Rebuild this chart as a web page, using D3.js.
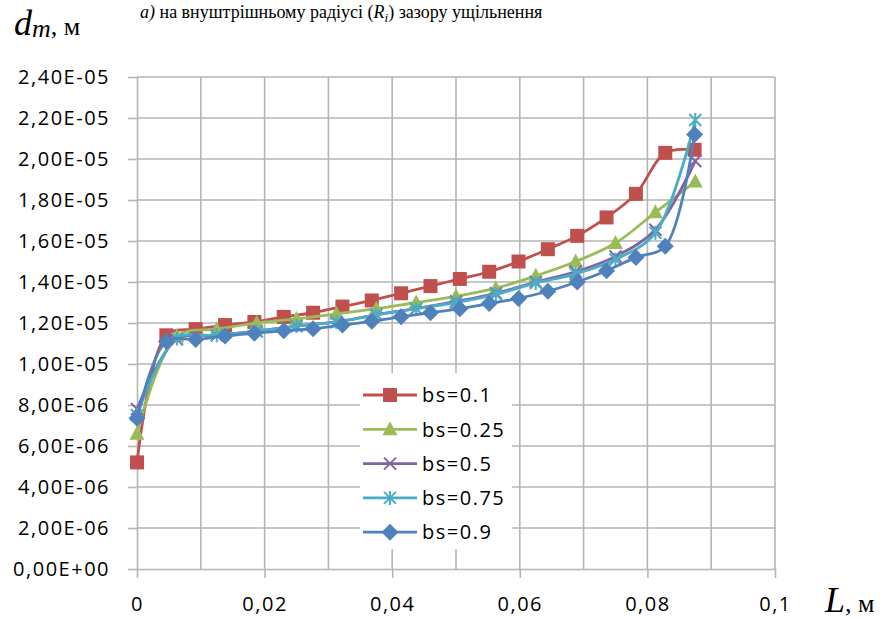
<!DOCTYPE html>
<html>
<head>
<meta charset="utf-8">
<script src="https://cdn.jsdelivr.net/npm/d3@7"></script>
<style>
  body { margin: 0; background: #fff; }
  .tick text { font-family: "Open Sans", sans-serif; font-size: 20px; letter-spacing: 1.5px; fill: #000; }
  .serif { font-family: "Liberation Serif", "Times New Roman", serif; fill: #000; }
</style>
</head>
<body>
<div id="graph"></div>
<script>
// x positions (L, m)
var xFine = [0, 0.0046, 0.0092, 0.0138, 0.0184, 0.023, 0.0276, 0.0322, 0.0368, 0.0414,
             0.046, 0.0506, 0.0552, 0.0598, 0.0644, 0.069, 0.0736, 0.0782, 0.0828, 0.0874];
var xCoarse = [0, 0.00625, 0.0125, 0.01875, 0.025, 0.03125, 0.0375, 0.04375, 0.05,
               0.05625, 0.0625, 0.06875, 0.075, 0.08125, 0.0875];

// d_m values, x 1e-6 m
var bs01 = [5.2, 11.4, 11.7, 11.9, 12.05, 12.3, 12.5, 12.8, 13.1, 13.45,
            13.8, 14.15, 14.5, 15.0, 15.6, 16.25, 17.15, 18.3, 20.3, 20.45];
var bs025 = [6.6, 11.35, 11.7, 12.0, 12.2, 12.45, 12.7, 13.0, 13.3, 13.7,
             14.3, 15.0, 15.9, 17.4, 18.9];
var bs05 = [7.8, 11.2, 11.4, 11.6, 11.85, 12.05, 12.4, 12.7, 13.05, 13.45,
            14.0, 14.5, 15.25, 16.55, 19.9];
var bs075 = [7.5, 11.25, 11.4, 11.6, 11.85, 12.05, 12.4, 12.7, 13.0, 13.4,
             13.95, 14.4, 15.1, 16.4, 21.9];
var bs09 = [7.35, 11.1, 11.2, 11.37, 11.5, 11.62, 11.72, 11.9, 12.08, 12.3,
            12.5, 12.7, 12.95, 13.2, 13.55, 14.0, 14.55, 15.2, 15.75, 21.2];

var seriesNames = ["bs=0.1", "bs=0.25", "bs=0.5", "bs=0.75", "bs=0.9"];
var xTicks = [0, 0.02, 0.04, 0.06, 0.08, 0.1];
var xGrid = [0.01, 0.02, 0.03, 0.04, 0.05, 0.06, 0.07, 0.08, 0.09, 0.1];
var yTicks = [0, 2e-6, 4e-6, 6e-6, 8e-6, 1e-5, 1.2e-5, 1.4e-5, 1.6e-5, 1.8e-5, 2e-5, 2.2e-5, 2.4e-5];

var series = [
  {name: seriesNames[0], xs: xFine,   ys: bs01,  color: "#C0504D", marker: "square"},
  {name: seriesNames[1], xs: xCoarse, ys: bs025, color: "#9BBB59", marker: "triangle"},
  {name: seriesNames[2], xs: xCoarse, ys: bs05,  color: "#8064A2", marker: "x"},
  {name: seriesNames[3], xs: xCoarse, ys: bs075, color: "#4BACC6", marker: "star"},
  {name: seriesNames[4], xs: xFine,   ys: bs09,  color: "#4F81BD", marker: "diamond"}
];

drawGraph(892, 619);

function drawGraph(w, h) {
  var margin = {top: 77, right: 117, bottom: 50, left: 137},
      width = w - margin.left - margin.right,
      height = h - margin.top - margin.bottom;

  var x = d3.scaleLinear().domain([0, 0.1]).range([0, width]);
  var y = d3.scaleLinear().domain([0, 2.4e-5]).range([height, 0]);

  var svg = d3.select("#graph").append("svg")
      .attr("width", w)
      .attr("height", h);

  var g = svg.append("g")
      .attr("transform", "translate(" + margin.left + "," + margin.top + ")");

  var gridColor = "#b5b5b5";

  // grid
  g.selectAll(".vgrid").data(xGrid).enter().append("line")
      .attr("x1", function(d) { return x(d); }).attr("x2", function(d) { return x(d); })
      .attr("y1", 0).attr("y2", height)
      .attr("stroke", gridColor).attr("stroke-width", 1.6);
  g.selectAll(".hgrid").data(yTicks.slice(1)).enter().append("line")
      .attr("x1", 0).attr("x2", width)
      .attr("y1", function(d) { return y(d); }).attr("y2", function(d) { return y(d); })
      .attr("stroke", gridColor).attr("stroke-width", 1.6);

  // axes
  function sci(d) {
    var p = d.toExponential(2).split("e");
    var e = parseInt(p[1]);
    var s = e < 0 ? "-" : "+";
    e = Math.abs(e);
    return p[0].replace(".", ",") + "E" + s + (e < 10 ? "0" : "") + e;
  }
  var yAxis = g.append("g")
      .call(d3.axisLeft(y).tickValues(yTicks).tickSize(9).tickSizeOuter(0).tickPadding(18).tickFormat(sci));
  var xAxis = g.append("g")
      .attr("transform", "translate(0," + height + ")")
      .call(d3.axisBottom(x).tickValues(xTicks).tickSize(9).tickSizeOuter(0).tickPadding(14)
        .tickFormat(function(d) { return String(d).replace(".", ","); }));
  [yAxis, xAxis].forEach(function(a) {
    a.select(".domain").attr("stroke", gridColor).attr("stroke-width", 1.6);
    a.selectAll(".tick line").attr("stroke", gridColor).attr("stroke-width", 1.6);
    a.selectAll(".tick text").attr("font-family", null).attr("font-size", null);
  });
  xAxis.selectAll(".tick text").attr("dy", "0.95em");

  // smoothed lines, like Excel
  var line = d3.line()
      .x(function(d) { return x(d[0]); })
      .y(function(d) { return y(d[1] * 1e-6); })
      .curve(d3.curveCatmullRom.alpha(0.5));

  series.forEach(function(s) {
    var pts = s.xs.map(function(v, i) { return [v, s.ys[i]]; });
    g.append("path")
        .datum(pts)
        .attr("fill", "none")
        .attr("stroke", s.color)
        .attr("stroke-width", 2.8)
        .attr("d", line);
    g.selectAll(null).data(pts).enter().append("g")
        .attr("transform", function(d) { return "translate(" + x(d[0]) + "," + y(d[1] * 1e-6) + ")"; })
        .each(function() { drawMarker(d3.select(this), s.marker, s.color); });
  });

  // legend
  var lg = svg.append("g").attr("transform", "translate(360,373)");
  lg.append("rect").attr("width", 152).attr("height", 176).attr("fill", "#fff");
  series.forEach(function(s, i) {
    var row = lg.append("g").attr("transform", "translate(0," + (22 + i * 34.3) + ")");
    row.append("line").attr("x1", 3).attr("x2", 57).attr("stroke", s.color).attr("stroke-width", 2.8);
    drawMarker(row.append("g").attr("transform", "translate(30,0)"), s.marker, s.color);
    row.append("text").attr("x", 62).attr("dy", "0.36em")
        .attr("font-family", "Open Sans, sans-serif").attr("font-size", 20)
        .attr("letter-spacing", 1.5).text(s.name);
  });

  // titles
  var t = svg.append("text").attr("class", "serif").attr("x", 140).attr("y", 18).attr("font-size", 18);
  t.append("tspan").attr("font-style", "italic").text("а)");
  t.append("tspan").text(" на внуштрішньому радіусі (");
  t.append("tspan").attr("font-style", "italic").text("R");
  t.append("tspan").attr("font-style", "italic").attr("font-size", 13).attr("dy", 4).text("i");
  t.append("tspan").attr("dy", -4).text(") зазору ущільнення");

  var yl = svg.append("text").attr("class", "serif").attr("x", 14).attr("y", 35);
  yl.append("tspan").attr("font-style", "italic").attr("font-size", 36).text("d");
  yl.append("tspan").attr("font-style", "italic").attr("font-size", 26).attr("dy", 2).text("m");
  yl.append("tspan").attr("font-size", 26).attr("dy", -2).text(", м");

  var xl = svg.append("text").attr("class", "serif").attr("x", 825).attr("y", 612);
  xl.append("tspan").attr("font-style", "italic").attr("font-size", 36).text("L");
  xl.append("tspan").attr("font-size", 26).text(", м");
}

function drawMarker(sel, type, color) {
  if (type === "square") {
    sel.append("rect").attr("x", -7).attr("y", -7).attr("width", 14).attr("height", 14).attr("fill", color);
  } else if (type === "triangle") {
    sel.append("path").attr("d", "M0,-8L7.5,6L-7.5,6Z").attr("fill", color);
  } else if (type === "diamond") {
    sel.append("path").attr("d", "M0,-8.5L8.5,0L0,8.5L-8.5,0Z").attr("fill", color);
  } else if (type === "x") {
    sel.append("path").attr("d", "M-6,-6L6,6M-6,6L6,-6").attr("stroke", color).attr("stroke-width", 2);
  } else if (type === "star") {
    sel.append("path").attr("d", "M-6,-6L6,6M-6,6L6,-6M0,-7L0,7").attr("stroke", color).attr("stroke-width", 2);
  }
}
</script>
</body>
</html>
